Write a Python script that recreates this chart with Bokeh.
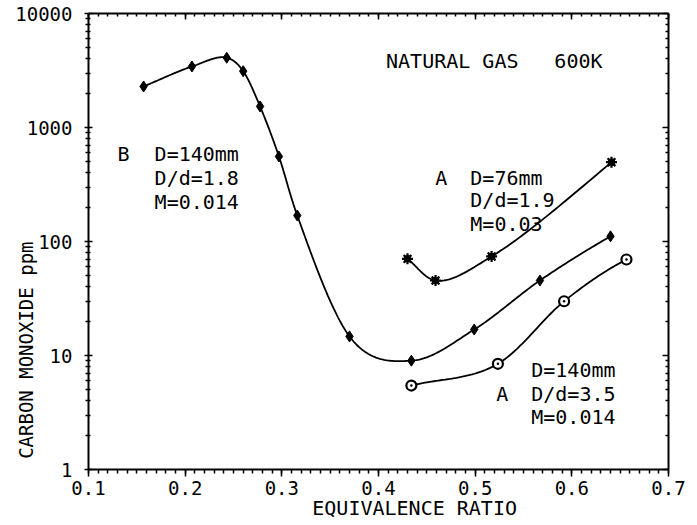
import numpy as np
from bokeh.plotting import figure
from bokeh.models import Range1d, FixedTicker, LinearAxis, LogAxis, Label, PrintfTickFormatter
from bokeh.embed import file_html
from bokeh.resources import INLINE

# ---- data ----
# Curve B: D=140mm, D/d=1.8, M=0.014 (diamonds)
b_phi = [0.157, 0.207, 0.243, 0.260, 0.2775, 0.297, 0.316, 0.370, 0.434, 0.499, 0.567, 0.640]
b_co = [2290, 3430, 4090, 3120, 1530, 557, 169, 14.7, 9.0, 16.9, 45.5, 111]
# Curve A: D=76mm, D/d=1.9, M=0.03 (asterisks)
a76_phi = [0.430, 0.459, 0.517, 0.641]
a76_co = [70.5, 45.5, 73.9, 496]
# Curve A: D=140mm, D/d=3.5, M=0.014 (circles)
a140_phi = [0.434, 0.5235, 0.592, 0.6565]
a140_co = [5.45, 8.46, 29.9, 69.5]

x_ticks = [0.1, 0.2, 0.3, 0.4, 0.5, 0.6, 0.7]
y_ticks = [1, 10, 100, 1000, 10000]
y_labels = {1: "1", 10: "10", 100: "100", 1000: "1000", 10000: "10000"}

x_title = "EQUIVALENCE RATIO"
y_title = "CARBON MONOXIDE ppm"

FONT = "DejaVu Sans Mono"
NBSP = "\u00a0"

x_minor = [round(0.1 + 0.01 * i, 2) for i in range(61)]
y_minor = [m * 10 ** d for d in range(4) for m in range(2, 10)]


def smooth(xs, ys, n=40):
    """Centripetal Catmull-Rom path through the points, in (x, log y) space."""
    sx, sy = 9650.0, 114.0
    P = np.column_stack([np.array(xs) * sx, np.log10(ys) * sy])
    first = 2 * P[0] - P[1]
    last = 3 * P[-1] - 3 * P[-2] + P[-3]
    P = np.vstack([first, P, last])
    out = []
    a = 0.5
    for i in range(1, len(P) - 2):
        p0, p1, p2, p3 = P[i - 1], P[i], P[i + 1], P[i + 2]
        t0 = 0.0
        t1 = t0 + np.linalg.norm(p1 - p0) ** a
        t2 = t1 + np.linalg.norm(p2 - p1) ** a
        t3 = t2 + np.linalg.norm(p3 - p2) ** a
        t = np.linspace(t1, t2, n)[:, None]
        A1 = (t1 - t) / (t1 - t0) * p0 + (t - t0) / (t1 - t0) * p1
        A2 = (t2 - t) / (t2 - t1) * p1 + (t - t1) / (t2 - t1) * p2
        A3 = (t3 - t) / (t3 - t2) * p2 + (t - t2) / (t3 - t2) * p3
        B1 = (t2 - t) / (t2 - t0) * A1 + (t - t0) / (t2 - t0) * A2
        B2 = (t3 - t) / (t3 - t1) * A2 + (t - t1) / (t3 - t1) * A3
        C = (t2 - t) / (t2 - t1) * B1 + (t - t1) / (t2 - t1) * B2
        out.append(C if i == len(P) - 3 else C[:-1])
    C = np.vstack(out)
    return C[:, 0] / sx, 10 ** (C[:, 1] / sy)


p = figure(width=697, height=525, x_range=Range1d(0.1, 0.7), y_range=Range1d(1, 10000),
           y_axis_type="log", output_backend="svg", toolbar_location=None,
           min_border_left=88, min_border_right=29, min_border_top=13, min_border_bottom=56)
p.outline_line_color = None
p.grid.visible = False
p.background_fill_color = "white"
p.border_fill_color = "white"

xt = FixedTicker(ticks=x_ticks, minor_ticks=x_minor)
yt = FixedTicker(ticks=y_ticks, minor_ticks=y_minor)


def style(ax, tin, tout, mtin, mtout, labels=True):
    ax.axis_line_color = "black"
    ax.axis_line_width = 2
    ax.major_tick_line_color = "black"
    ax.major_tick_line_width = 1.5
    ax.minor_tick_line_color = "black"
    ax.minor_tick_line_width = 1.5
    ax.major_tick_in = tin
    ax.major_tick_out = tout
    ax.minor_tick_in = mtin
    ax.minor_tick_out = mtout
    if labels:
        ax.major_label_text_font = FONT
        ax.major_label_text_font_size = "19px"
        ax.major_label_text_color = "black"
        ax.axis_label_text_font = FONT
        ax.axis_label_text_font_style = "normal"
        ax.axis_label_text_color = "black"
    else:
        ax.major_label_text_font_size = "2px"
        ax.major_label_text_color = None
        ax.major_label_standoff = 0


xa = p.xaxis[0]
xa.ticker = xt
xa.formatter = PrintfTickFormatter(format="%.1f")
style(xa, 0, 7, 0, 4)
xa.major_label_standoff = 4
# leading no-break spaces shift the centred title to the right, as in the reference
xa.axis_label = NBSP * 6 + x_title
xa.axis_label_text_font_size = "20px"
xa.axis_label_standoff = -2

ya = p.yaxis[0]
ya.ticker = yt
ya.major_label_overrides = y_labels
style(ya, 4, 4, 2, 3)
ya.major_label_standoff = 12
# trailing no-break spaces shift the centred title downward, as in the reference
ya.axis_label = y_title + NBSP * 19
ya.axis_label_text_font_size = "19px"
ya.axis_label_standoff = -25

top = LinearAxis(ticker=xt)
style(top, 6, 0, 3, 0, labels=False)
p.add_layout(top, "above")

right = LogAxis(ticker=yt)
style(right, 6, 0, 3, 0, labels=False)
p.add_layout(right, "right")

# curves
for xs, ys in [(b_phi, b_co), (a76_phi, a76_co), (a140_phi, a140_co)]:
    cx, cy = smooth(xs, ys)
    p.line(cx, cy, line_color="black", line_width=1.8)

p.scatter(b_phi, b_co, marker="diamond", size=11, color="black")
p.scatter(a76_phi, a76_co, marker="square", size=6, color="black")
p.scatter(a76_phi, a76_co, marker="asterisk", size=11, line_color="black", line_width=2.2)
p.scatter(a140_phi, a140_co, marker="circle_dot", size=10, line_color="black",
          fill_color="white", line_width=2.2)


def txt(x, y, s, size="20px", align="left"):
    p.add_layout(Label(x=x, y=y, text=s, text_font=FONT, text_font_size=size,
                       text_align=align, text_baseline="middle", text_color="black"))


txt(0.4078, 3870, "NATURAL GAS")
txt(0.5819, 3870, "600K")

txt(0.130, 591, "B")
txt(0.1684, 591, "D=140mm")
txt(0.1684, 364, "D/d=1.8")
txt(0.1684, 224, "M=0.014")

txt(0.4586, 364, "A")
txt(0.495, 364, "D=76mm")
txt(0.495, 229, "D/d=1.9")
txt(0.495, 141, "M=0.03")

txt(0.558, 7.39, "D=140mm")
txt(0.5218, 4.61, "A")
txt(0.558, 4.61, "D/d=3.5")
txt(0.558, 2.88, "M=0.014")

open("out.html", "w").write(file_html(p, INLINE))
